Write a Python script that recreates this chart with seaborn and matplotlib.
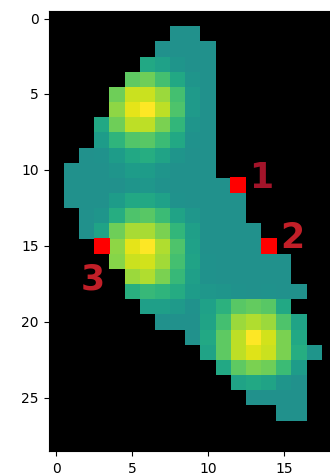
import numpy as np
import pandas as pd
import matplotlib
matplotlib.use("Agg")
import matplotlib.pyplot as plt
import seaborn as sns

# ---- data: intensity (viridis fraction) per cell, row by row ----
n_rows = 29
n_cols = 19
row_start = [None, 8, 7, 6, 5, 4, 4, 3, 3, 2, 1, 1, 1, 2, 2, 4, 4, 5, 5, 6,
             7, 9, 10, 11, 12, 13, 15, None, None]
row_values = [
    [],
    [0.5, 0.5],
    [0.5, 0.5, 0.5, 0.5],
    [0.6, 0.57, 0.52, 0.5, 0.5],
    [0.75, 0.78, 0.7, 0.6, 0.52, 0.5],
    [0.78, 0.92, 0.92, 0.85, 0.7, 0.54, 0.5],
    [0.83, 0.96, 1.0, 0.9, 0.72, 0.54, 0.5],
    [0.6, 0.78, 0.9, 0.9, 0.8, 0.66, 0.52, 0.5],
    [0.55, 0.65, 0.73, 0.74, 0.68, 0.6, 0.51, 0.5],
    [0.5, 0.51, 0.55, 0.6, 0.62, 0.58, 0.52, 0.5, 0.5],
    [0.5, 0.5, 0.5, 0.52, 0.55, 0.55, 0.52, 0.5, 0.5, 0.5],
    [0.5, 0.5, 0.5, 0.5, 0.52, 0.53, 0.51, 0.5, 0.5, 0.5, 0.5],
    [0.5, 0.5, 0.5, 0.55, 0.6, 0.6, 0.57, 0.51, 0.5, 0.5, 0.5, 0.5],
    [0.5, 0.52, 0.62, 0.72, 0.74, 0.68, 0.58, 0.53, 0.5, 0.5, 0.5],
    [0.5, 0.58, 0.78, 0.87, 0.87, 0.8, 0.66, 0.56, 0.5, 0.5, 0.5, 0.5],
    [0.83, 0.96, 1.0, 0.88, 0.72, 0.57, 0.5, 0.5, 0.5, 0.5],
    [0.82, 0.92, 0.93, 0.86, 0.7, 0.58, 0.51, 0.5, 0.5, 0.5, 0.5, 0.5],
    [0.85, 0.88, 0.8, 0.67, 0.56, 0.51, 0.5, 0.5, 0.5, 0.5, 0.5],
    [0.63, 0.67, 0.65, 0.61, 0.55, 0.53, 0.52, 0.51, 0.5, 0.51, 0.5, 0.5],
    [0.56, 0.56, 0.54, 0.51, 0.57, 0.64, 0.74, 0.76, 0.74, 0.6],
    [0.5, 0.5, 0.5, 0.58, 0.7, 0.85, 0.88, 0.85, 0.72, 0.58],
    [0.5, 0.6, 0.75, 0.9, 1.0, 0.93, 0.8, 0.6],
    [0.58, 0.75, 0.9, 0.95, 0.92, 0.8, 0.62, 0.52],
    [0.6, 0.75, 0.8, 0.78, 0.68, 0.55],
    [0.58, 0.6, 0.58, 0.52, 0.5],
    [0.5, 0.5, 0.5, 0.5],
    [0.5, 0.5],
    [],
    [],
]

# marked cells and their labels
marker_cols = [12, 14, 3]
marker_rows = [11, 15, 15]
marker_labels = ["1", "2", "3"]
label_colors = ["#a3142a", "#c21f28", "#c21f28"]

tick_values = [0, 5, 10, 15]
ytick_values = [0, 5, 10, 15, 20, 25]

# ---- build grid ----
grid = np.full((n_rows, n_cols), np.nan)
for r, (s, vals) in enumerate(zip(row_start, row_values)):
    if s is None:
        continue
    grid[r, s:s + len(vals)] = vals
df = pd.DataFrame(grid)

# ---- figure ----
W, H, DPI = 330, 477, 100
fig = plt.figure(figsize=(W / DPI, H / DPI), dpi=DPI)
left_px, top_px, bottom_px = 48.7, 12.0, 452.0
cell_px = (bottom_px - top_px) / n_rows
ax = fig.add_axes([left_px / W, (H - bottom_px) / H,
                   n_cols * cell_px / W, (bottom_px - top_px) / H])
ax.set_facecolor("black")

sns.heatmap(df, ax=ax, cmap="viridis", vmin=0, vmax=1, cbar=False,
            mask=df.isna(), linewidths=0)

for sp in ax.spines.values():
    sp.set_visible(True)
    sp.set_color("black")
    sp.set_linewidth(0.8)

ax.set_xticks([v + 0.5 for v in tick_values])
ax.set_xticklabels([str(v) for v in tick_values], rotation=0, fontsize=10)
ax.set_yticks([v + 0.5 for v in ytick_values])
ax.set_yticklabels([str(v) for v in ytick_values], rotation=0, fontsize=10)
ax.tick_params(axis="both", length=3.5, width=0.8, direction="out",
               colors="black", labelcolor="black")
ax.set_xlabel("")
ax.set_ylabel("")

# red marker cells
side_pt = cell_px * 72 / DPI
mx = [c + 0.5 for c in marker_cols]
my = [r + 0.5 for r in marker_rows]
ax.scatter(mx, my, s=side_pt ** 2, marker="s", c="red", linewidths=0,
           zorder=3)

# labels
offsets = [(1.53, 0.12), (1.53, 0.06), (-0.62, 2.78)]
for x, y, lab, col, (dx, dy) in zip(mx, my, marker_labels, label_colors, offsets):
    ax.text(x + dx, y + dy, lab, color=col, fontsize=25, fontweight="bold",
            ha="center", va="baseline", zorder=4)

fig.savefig("out.png", dpi=DPI)
